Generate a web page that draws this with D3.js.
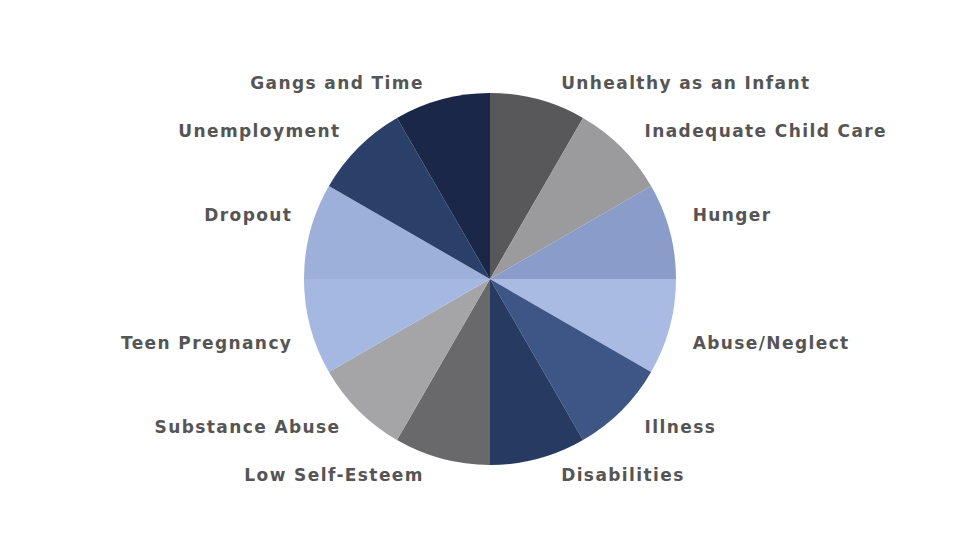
<!doctype html>
<html>
<head>
    <meta charset="utf-8">
    <title>Risk factors pie</title>
    <script src="https://d3js.org/d3.v7.min.js"></script>
    <style type="text/css">
        html, body { width: 100%; height: 100%; margin: 0; background: #fff; }
        svg text { font-family: "DejaVu Sans", Verdana, sans-serif; font-weight: bold; fill: #555; }
    </style>
</head>
<body>
<svg id="chart" width="980" height="552"></svg>
<script type="text/javascript">
    // slices clockwise from 12 o'clock
    var categories = ["Unhealthy as an Infant", "Inadequate Child Care", "Hunger", "Abuse/Neglect",
        "Illness", "Disabilities", "Low Self-Esteem", "Substance Abuse",
        "Teen Pregnancy", "Dropout", "Unemployment", "Gangs and Time"];
    var values = [1, 1, 1, 1, 1, 1, 1, 1, 1, 1, 1, 1];
    var colors = ["#58585b", "#9b9b9e", "#8a9dca", "#a9bbe2",
        "#3e5685", "#263a62", "#69696b", "#a5a5a8",
        "#a4b8e1", "#9db0da", "#2b4069", "#1b2749"];

    var cx = 490, cy = 279, r = 186;

    var svg = d3.select("#chart");
    var g = svg.append("g").attr("transform", "translate(" + cx + "," + cy + ")");

    var pie = d3.pie().sort(null).value(function(d) { return d; });
    var arc = d3.arc().innerRadius(0).outerRadius(r);
    var arcs = pie(values);

    g.selectAll("path.slice")
        .data(arcs)
        .enter()
        .append("path")
        .attr("class", "slice")
        .attr("d", arc)
        .attr("fill", function(d, i) { return colors[i]; });

    // labels sit just outside the rim, pushed out sideways and up/down
    g.selectAll("text.lbl")
        .data(arcs)
        .enter()
        .append("text")
        .attr("class", "lbl")
        .attr("font-size", 17)
        .attr("letter-spacing", 1.4)
        .attr("dominant-baseline", "central")
        .attr("text-anchor", function(d) {
            var a = (d.startAngle + d.endAngle) / 2;
            return Math.sin(a) > 0 ? "start" : "end";
        })
        .attr("x", function(d) {
            var a = (d.startAngle + d.endAngle) / 2;
            var s = Math.sin(a);
            return r * s + (s > 0 ? 23 : -18);
        })
        .attr("y", function(d) {
            var a = (d.startAngle + d.endAngle) / 2;
            var c = Math.cos(a);
            return -r * c + (c > 0 ? -16 : 16);
        })
        .text(function(d, i) { return categories[i]; });
</script>
</body>
</html>
